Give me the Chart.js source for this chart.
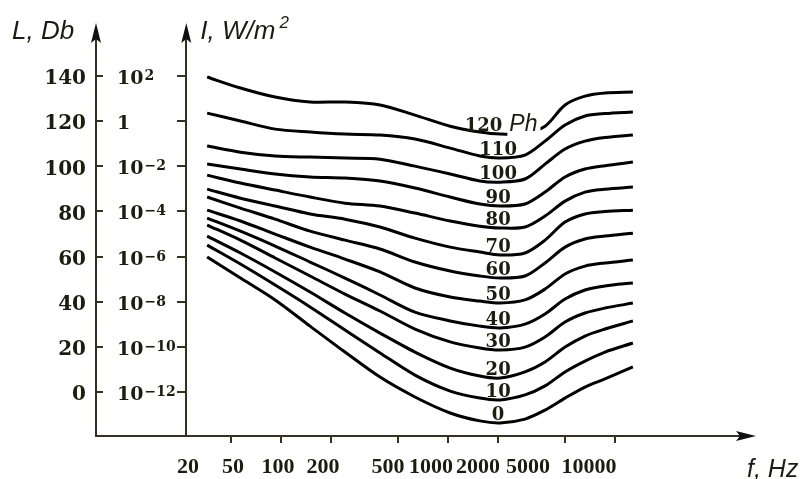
<!DOCTYPE html>
<html>
<head>
<meta charset="utf-8">
<script src="https://cdn.jsdelivr.net/npm/chart.js@4.4.1/dist/chart.umd.min.js"></script>
<style>
  html, body { margin: 0; background: #fff; }
  canvas { display: block; }
</style>
</head>
<body>
<canvas id="loudness" width="804" height="479"></canvas>
<script>
// equal-loudness contours, values (Hz -> dB)
const freqHz = [36, 57, 92, 149, 241, 391, 633, 1030, 1550, 2050, 2890, 3810, 5020, 6610, 8710, 12800];

const L0   = [59.8, 50.5, 40.8, 29.2, 17.7, 6.6, -2.2, -9.3, -12.8, -13.7, -12.0, -8.0, -2.7, 2.2, 5.8, 11.1];
const L10  = [65.1, 56.7, 47.4, 37.7, 27.5, 17.3, 7.5, 0.4, -2.7, -3.5, -1.3, 2.7, 8.9, 13.7, 17.7, 21.7];
const L20  = [69.1, 61.6, 53.2, 44.3, 35.0, 26.1, 17.7, 10.6, 7.1, 6.2, 8.9, 13.3, 19.9, 24.8, 27.9, 31.5];
const L30  = [74.0, 67.3, 59.4, 51.4, 43.4, 35.9, 27.9, 22.2, 19.5, 18.6, 19.9, 24.4, 31.0, 35.0, 37.2, 39.4];
const L40  = [77.1, 71.3, 64.7, 57.6, 50.5, 43.0, 35.4, 31.5, 29.2, 28.4, 30.1, 34.6, 41.2, 45.2, 47.0, 48.3];
const L50  = [80.6, 75.8, 70.0, 64.2, 58.9, 53.2, 46.1, 42.1, 40.3, 39.4, 40.8, 45.6, 52.3, 55.8, 57.2, 58.5];
const L60  = [86.4, 81.5, 76.6, 71.3, 67.3, 63.4, 57.6, 53.6, 51.4, 50.5, 51.4, 57.2, 64.2, 67.8, 69.1, 70.4];
const L70  = [89.9, 85.9, 82.4, 78.9, 76.6, 73.1, 68.2, 64.2, 62.0, 60.7, 61.6, 67.3, 75.3, 78.9, 80.0, 80.6];
const L80  = [96.1, 92.6, 89.5, 86.4, 83.7, 82.4, 79.3, 75.8, 73.5, 72.7, 73.1, 78.0, 84.6, 88.6, 89.9, 90.8];
const L90  = [101.0, 98.8, 96.6, 95.3, 94.8, 93.5, 90.4, 86.4, 83.3, 82.4, 83.3, 88.6, 95.3, 98.8, 100.3, 101.9];
const L100 = [109.0, 106.3, 104.6, 104.1, 103.7, 103.2, 100.1, 96.6, 93.5, 93.0, 94.4, 101.0, 107.7, 111.2, 112.8, 113.9];
const L110 = [123.6, 120.1, 116.5, 115.2, 114.3, 113.9, 112.1, 108.1, 104.6, 103.7, 105.0, 111.2, 118.3, 122.3, 123.4, 124.1];
const L120 = [139.6, 134.7, 130.7, 128.5, 128.5, 127.2, 122.7, 117.8, 115.2, 114.3, 114.8, 117.8, 127.2, 131.1, 132.5, 132.9];

const phons = [0, 10, 20, 30, 40, 50, 60, 70, 80, 90, 100, 110, 120];
const contours = [L0, L10, L20, L30, L40, L50, L60, L70, L80, L90, L100, L110, L120];

const dbTicks = [0, 20, 40, 60, 80, 100, 120, 140];
const intensityExp = [-12, -10, -8, -6, -4, -2, 0, 2];   // W/m^2 = 10^exp
const freqTicks = [50, 100, 200, 500, 1000, 2000, 5000, 10000];
const freqLabels = ['20', '50', '100', '200', '500', '1000', '2000', '5000', '10000'];
const iAxisFreq = 27;   // intensity axis sits here on the frequency axis

const ink = '#1c1c10';
const axisCol = '#34321c';
const serif = '"DejaVu Serif", serif';
const bookSerif = '"Liberation Serif", serif';
const sans = '"Liberation Sans", Arial, sans-serif';

// where the printed frequency labels sit (they are not centred on the ticks)
const freqLabelX = [188, 233, 278, 323, 388, 431, 478, 528, 589];

function arrowUp(ctx, x, tipY) {
  ctx.beginPath();
  ctx.moveTo(x, tipY);
  ctx.lineTo(x + 5, tipY + 20);
  ctx.lineTo(x, tipY + 16);
  ctx.lineTo(x - 5, tipY + 20);
  ctx.closePath();
  ctx.fill();
}

function arrowRight(ctx, tipX, y) {
  ctx.beginPath();
  ctx.moveTo(tipX, y);
  ctx.lineTo(tipX - 20, y + 5);
  ctx.lineTo(tipX - 16, y);
  ctx.lineTo(tipX - 20, y - 5);
  ctx.closePath();
  ctx.fill();
}

const decor = {
  id: 'decor',
  afterDatasetsDraw(chart) {
    const ctx = chart.ctx;
    // phon labels just above each curve's lowest point
    ctx.save();
    ctx.fillStyle = ink;
    ctx.textBaseline = 'alphabetic';
    chart.data.datasets.forEach((ds, i) => {
      const vals = contours[i];
      const k = vals.indexOf(Math.min(...vals));
      const pt = chart.getDatasetMeta(i).data[k];
      const base = pt.y - 3;
      if (phons[i] === 120) {
        ctx.font = 'bold 18px ' + serif;
        const w1 = ctx.measureText('120').width;
        ctx.font = 'italic 23px ' + sans;
        const w2 = ctx.measureText('Ph').width;
        const x0 = pt.x + 1 - (w1 + 7 + w2) / 2;
        ctx.fillStyle = '#fff';
        ctx.fillRect(x0 + w1 + 5, base - 19, w2 + 5, 24);
        ctx.fillStyle = ink;
        ctx.textAlign = 'left';
        ctx.font = 'bold 18px ' + serif;
        ctx.fillText('120', x0, base);
        ctx.font = 'italic 23px ' + sans;
        ctx.fillText('Ph', x0 + w1 + 7, base);
      } else {
        ctx.font = 'bold 18px ' + serif;
        ctx.textAlign = 'center';
        ctx.fillText(String(phons[i]), pt.x - 2, base);
      }
    });
    ctx.restore();
  },
  afterDraw(chart) {
    const ctx = chart.ctx;
    const area = chart.chartArea;
    const xs = chart.scales.x;
    const y2 = chart.scales.y2;
    const iX = xs.getPixelForValue(iAxisFreq);
    ctx.save();
    ctx.fillStyle = '#111';
    arrowUp(ctx, area.left, area.top - 17);
    arrowUp(ctx, iX, area.top - 17);
    arrowRight(ctx, area.right + 16, area.bottom);

    ctx.fillStyle = ink;
    // intensity labels, left aligned between the two vertical axes
    dbTicks.forEach((v, i) => {
      const y = y2.getPixelForValue(v) + 3;
      const e = intensityExp[i];
      const x = area.left + 21;
      ctx.textAlign = 'left';
      ctx.textBaseline = 'middle';
      ctx.font = 'bold 19px ' + serif;
      if (e === 0) { ctx.fillText('1', x, y); return; }
      ctx.fillText('10', x, y);
      const w = ctx.measureText('10').width;
      ctx.font = 'bold 14px ' + serif;
      ctx.textBaseline = 'alphabetic';
      ctx.fillText(e < 0 ? '\u2212' + (-e) : String(e), x + w + 1, y + 1);
    });

    // frequency labels
    ctx.font = 'bold 22px ' + bookSerif;
    ctx.textAlign = 'center';
    ctx.textBaseline = 'middle';
    freqLabels.forEach((t, i) => ctx.fillText(t, freqLabelX[i], area.bottom + 31));

    // axis titles
    ctx.textAlign = 'left';
    ctx.textBaseline = 'alphabetic';
    ctx.font = 'italic 26px ' + sans;
    ctx.fillText('L, Db', 12, 39);
    ctx.fillText('I, W/m', iX + 14, 39);
    const wm = ctx.measureText('I, W/m').width;
    ctx.font = 'italic 17px ' + sans;
    ctx.fillText('2', iX + 14 + wm + 4, 28);
    ctx.font = 'italic 25px ' + sans;
    ctx.fillText('f, Hz', area.right + 7, area.bottom + 41);
    ctx.restore();
  }
};

new Chart(document.getElementById('loudness'), {
  type: 'line',
  data: {
    datasets: contours.map((lv, i) => ({
      label: phons[i] + ' Ph',
      data: freqHz.map((f, j) => ({ x: f, y: lv[j] })),
      borderColor: '#000',
      borderWidth: 3,
      pointRadius: 0,
      tension: 0.3,
      fill: false
    }))
  },
  options: {
    responsive: false,
    animation: false,
    layout: { padding: { left: 0, top: 40, right: 64, bottom: 0 } },
    plugins: { legend: { display: false }, tooltip: { enabled: false } },
    scales: {
      x: {
        type: 'logarithmic',
        min: 7.77,
        max: 56100,
        afterBuildTicks: s => { s.ticks = freqTicks.map(v => ({ value: v })); },
        afterFit: s => { s.height = 43; },
        ticks: { display: false },
        grid: { display: true, drawOnChartArea: false, drawTicks: true, tickLength: 7, color: axisCol, lineWidth: 2 },
        border: { display: true, color: axisCol, width: 2 }
      },
      y: {
        position: 'left',
        min: -19.5,
        max: 156,
        afterBuildTicks: s => { s.ticks = dbTicks.map(v => ({ value: v })); },
        afterFit: s => { s.width = 96; },
        ticks: {
          color: ink,
          padding: 17,
          labelOffset: 3,
          font: { family: 'DejaVu Serif', size: 20, weight: 'bold' }
        },
        grid: { display: true, drawOnChartArea: false, drawTicks: true, tickLength: -7, color: axisCol, lineWidth: 2 },
        border: { display: true, color: axisCol, width: 2 }
      },
      y2: {
        position: { x: iAxisFreq },
        min: -19.5,
        max: 156,
        afterBuildTicks: s => { s.ticks = dbTicks.map(v => ({ value: v })); },
        afterFit: s => { s.width = 0; },
        ticks: { display: false },
        grid: { display: true, drawOnChartArea: false, drawTicks: true, tickLength: 8, color: axisCol, lineWidth: 2 },
        border: { display: true, color: axisCol, width: 2 }
      }
    }
  },
  plugins: [decor]
});
</script>
</body>
</html>
